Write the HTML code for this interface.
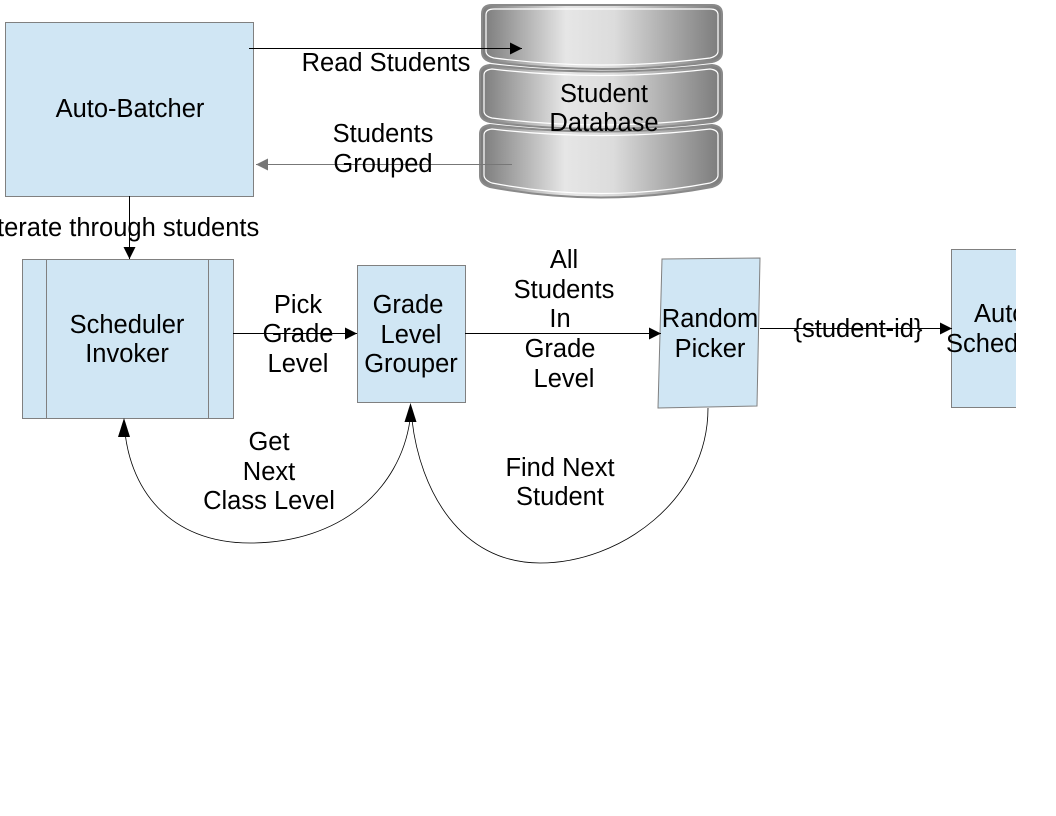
<!DOCTYPE html>
<html><head><meta charset="utf-8"><style>
html,body{margin:0;padding:0;background:#fff;width:1056px;height:816px;overflow:hidden}
svg text{font-family:"Liberation Sans",sans-serif;font-size:25.5px;fill:#000}
</style></head><body>
<svg width="1056" height="816" viewBox="0 0 1056 816" xmlns="http://www.w3.org/2000/svg">
<defs>
<linearGradient id="g" x1="0" x2="1" y1="0" y2="0">
<stop offset="0" stop-color="#7a7a7a"/><stop offset="0.35" stop-color="#e6e6e6"/><stop offset="0.55" stop-color="#dcdcdc"/><stop offset="1" stop-color="#7a7a7a"/>
</linearGradient>
<marker id="a" viewBox="0 0 10 10" refX="10" refY="5" markerWidth="20" markerHeight="12" markerUnits="userSpaceOnUse" orient="auto"><path d="M0,0 L10,5 L0,10z" fill="#000"/></marker>
<marker id="ag" viewBox="0 0 10 10" refX="10" refY="5" markerWidth="20" markerHeight="12" markerUnits="userSpaceOnUse" orient="auto"><path d="M0,0 L10,5 L0,10z" fill="#777"/></marker>
</defs>
<g stroke="#8a8a8a" stroke-width="2" fill="url(#g)">
<path d="M482,14 Q482,5 492,5 L712,5 Q722,5 722,14 L722,52 Q722,60 712,62 Q602,76 492,62 Q482,60 482,52 Z"/>
<path d="M480,74 Q480,66 490,65 Q601,78 712,65 Q722,66 722,74 L722,112 Q722,120 712,122 Q601,136 490,122 Q480,120 480,112 Z"/>
<path d="M480,134 Q480,126 490,125 Q601,138 712,125 Q722,126 722,134 L722,176 Q722,184 712,187 Q601,208 490,187 Q480,184 480,176 Z"/>
</g>
<g stroke="#fff" stroke-width="1.2" fill="none">
<path d="M486,15 Q486,9 494,9 L710,9 Q718,9 718,15 L718,51 Q718,56 710,58 Q602,72 494,58 Q486,56 486,51 Z"/>
<path d="M484,75 Q484,70 492,69 Q601,82 710,69 Q718,70 718,75 L718,111 Q718,116 710,118 Q601,132 492,118 Q484,116 484,111 Z"/>
<path d="M484,135 Q484,130 492,129 Q601,142 710,129 Q718,130 718,135 L718,175 Q718,180 710,183 Q601,204 492,183 Q484,180 484,175 Z"/>
</g>
<text x="604" y="102" text-anchor="middle">Student</text>
<text x="604" y="131" text-anchor="middle">Database</text>
<g fill="#d0e6f4" stroke="#808080" stroke-width="1">
<rect x="5.5" y="22.5" width="248" height="174"/>
<rect x="22.5" y="259.5" width="211" height="159"/>
<rect x="357.5" y="265.5" width="108" height="137"/>
<polygon points="662,259 760,258 757,406 658,408"/>
<rect x="951.5" y="249.5" width="80" height="158"/>
</g>
<line x1="46.5" y1="259" x2="46.5" y2="418" stroke="#808080"/>
<line x1="208.5" y1="259" x2="208.5" y2="418" stroke="#808080"/>
<text x="130" y="117" text-anchor="middle">Auto-Batcher</text>
<text x="127" y="333" text-anchor="middle">Scheduler</text>
<text x="127" y="362" text-anchor="middle">Invoker</text>
<text x="408" y="313" text-anchor="middle">Grade</text>
<text x="411" y="343" text-anchor="middle">Level</text>
<text x="411" y="372" text-anchor="middle">Grouper</text>
<text x="710" y="327" text-anchor="middle">Random</text>
<text x="710" y="357" text-anchor="middle">Picker</text>
<text x="974" y="322">Auto</text>
<text x="946" y="352">Sched</text>
<rect x="1016" y="240" width="40" height="180" fill="#fff"/>
<g stroke="#000" stroke-width="1" fill="none">
<line x1="249" y1="48.5" x2="522" y2="48.5" marker-end="url(#a)"/>
<line x1="129.5" y1="196" x2="129.5" y2="259" marker-end="url(#a)"/>
<line x1="233" y1="333.5" x2="357" y2="333.5" marker-end="url(#a)"/>
<line x1="465" y1="333.5" x2="661" y2="333.5" marker-end="url(#a)"/>
<line x1="760" y1="328.5" x2="952" y2="328.5" marker-end="url(#a)"/>
<path d="M410,420 C400,490 340,543 250,543 C170,543 127,490 124,420" stroke-width="0.8"/>
<path d="M708,408 C708,500 620,563 540,563 C460,563 420,490 412,420" stroke-width="0.8"/>
</g>
<line x1="512" y1="164.5" x2="256" y2="164.5" stroke="#777" marker-end="url(#ag)"/>
<path d="M124,418 L118,437 L130,437 Z"/>
<path d="M410.5,403 L404.5,422 L416.5,422 Z"/>
<text x="386" y="71" text-anchor="middle">Read Students</text>
<text x="383" y="142" text-anchor="middle">Students</text>
<text x="383" y="172" text-anchor="middle">Grouped</text>
<text x="-3" y="236">terate through students</text>
<text x="298" y="313" text-anchor="middle">Pick</text>
<text x="298" y="342" text-anchor="middle">Grade</text>
<text x="298" y="372" text-anchor="middle">Level</text>
<text x="564" y="268" text-anchor="middle">All</text>
<text x="564" y="298" text-anchor="middle">Students</text>
<text x="560" y="327" text-anchor="middle">In</text>
<text x="560" y="357" text-anchor="middle">Grade</text>
<text x="564" y="387" text-anchor="middle">Level</text>
<text x="858" y="337" text-anchor="middle">{student-id}</text>
<text x="269" y="450" text-anchor="middle">Get</text>
<text x="269" y="480" text-anchor="middle">Next</text>
<text x="269" y="509" text-anchor="middle">Class Level</text>
<text x="560" y="476" text-anchor="middle">Find Next</text>
<text x="560" y="505" text-anchor="middle">Student</text>
</svg>
</body></html>
